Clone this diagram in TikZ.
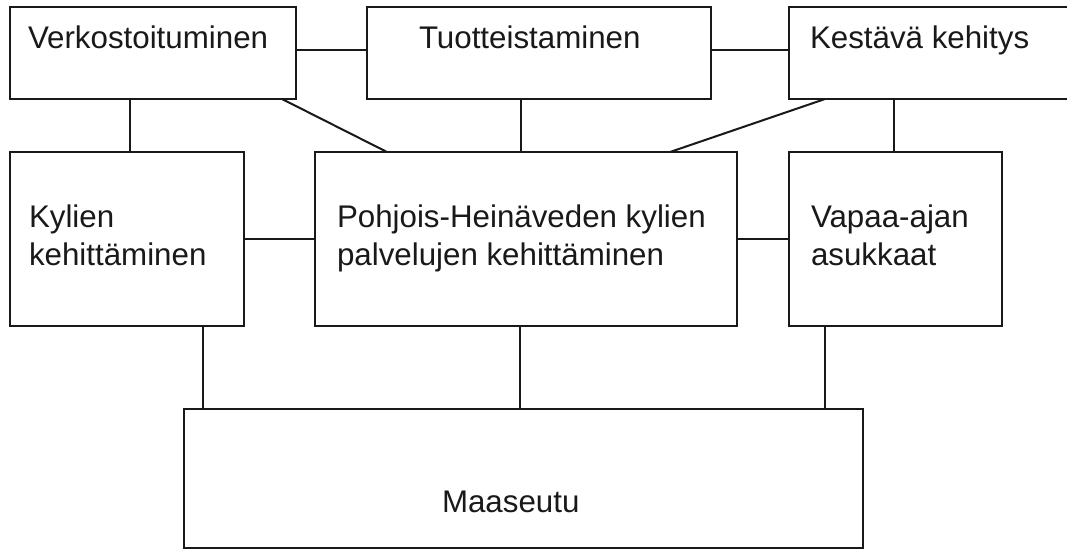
\documentclass[tikz,border=0pt]{standalone}
\usepackage{fontspec}
\setmainfont{Liberation Sans}
\begin{document}
\begin{tikzpicture}[x=1pt,y=-1pt,
  box/.style={draw=black!90,line width=2pt,inner sep=0pt,outer sep=0pt,anchor=north west,rectangle},
  lbl/.style={inner sep=0pt,outer sep=0pt,anchor=base west,font=\fontsize{31.3}{36}\selectfont,text=black!90},
  conn/.style={draw=black!90,line width=2pt}]
\useasboundingbox (0,0) rectangle (1067,550);
\fill[white] (0,0) rectangle (1067,550);
% boxes
\node[box,minimum width=286pt,minimum height=92pt] (verk) at (10,7) {};
\node[box,minimum width=344pt,minimum height=92pt] (tuot) at (367,7) {};
\node[box,minimum width=291pt,minimum height=92pt] (kest) at (789,7) {};
\node[box,minimum width=234pt,minimum height=174pt] (kyl) at (10,152) {};
\node[box,minimum width=422pt,minimum height=174pt] (pohj) at (315,152) {};
\node[box,minimum width=213pt,minimum height=174pt] (vap) at (789,152) {};
\node[box,minimum width=679pt,minimum height=139pt] (maa) at (184,409) {};
% labels
\node[lbl] (verkt) at (28,48) {Verkostoituminen};
\node[lbl] (tuott) at (419,48) {Tuotteistaminen};
\node[lbl] (kestt) at (810,48) {Kestävä kehitys};
\node[lbl] (kylt1) at (29,227) {Kylien};
\node[lbl] (kylt2) at (29,265) {kehittäminen};
\node[lbl] (pohjt1) at (337,227) {Pohjois-Heinäveden kylien};
\node[lbl] (pohjt2) at (337,265) {palvelujen kehittäminen};
\node[lbl] (vapt1) at (811,227) {Vapaa-ajan};
\node[lbl] (vapt2) at (811,265) {asukkaat};
\node[lbl] (maat) at (442,512) {Maaseutu};
% connectors
\draw[conn] ([yshift=3pt]verk.east) -- ([yshift=3pt]tuot.west);
\draw[conn] ([yshift=3pt]tuot.east) -- ([yshift=3pt]kest.west);
\draw[conn] ([xshift=120pt]verk.south west) -- ([xshift=120pt]kyl.north west);
\draw[conn] ([xshift=-14pt]verk.south east) -- ([xshift=72pt]pohj.north west);
\draw[conn] ([xshift=154pt]tuot.south west) -- ([xshift=206pt]pohj.north west);
\draw[conn] ([xshift=36pt]kest.south west) -- ([xshift=355pt]pohj.north west);
\draw[conn] ([xshift=105pt]kest.south west) -- ([xshift=105pt]vap.north west);
\draw[conn] (kyl.east) -- (pohj.west);
\draw[conn] (pohj.east) -- (vap.west);
\draw[conn] ([xshift=193pt]kyl.south west) -- ([xshift=19pt]maa.north west);
\draw[conn] ([xshift=205pt]pohj.south west) -- ([xshift=336pt]maa.north west);
\draw[conn] ([xshift=36pt]vap.south west) -- ([xshift=641pt]maa.north west);
\end{tikzpicture}
\end{document}
